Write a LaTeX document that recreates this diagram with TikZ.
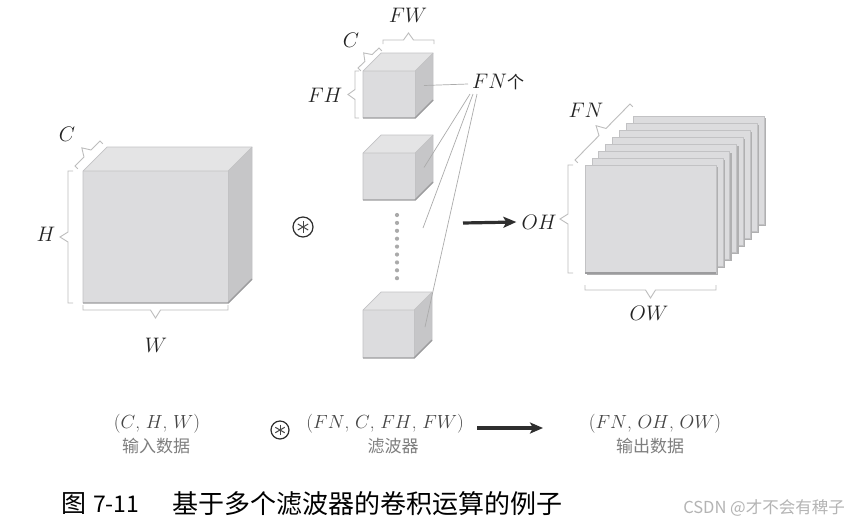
\RequirePackage{fix-cm}
\documentclass[tikz,border=0pt]{standalone}
\usepackage{fontspec}
\newfontfamily\cjk{Noto Sans CJK SC}
\usetikzlibrary{calc,arrows.meta}
\definecolor{lbl}{HTML}{222222}
\definecolor{bracecol}{HTML}{BDBDBD}
\definecolor{cfront}{HTML}{DCDCDE}
\definecolor{ctop}{HTML}{E4E4E5}
\definecolor{cside}{HTML}{C6C6C8}
\definecolor{cedge}{HTML}{C2C2C4}
\definecolor{cbot}{HTML}{9C9C9E}
\definecolor{fnline}{HTML}{ABABAB}
\definecolor{arrcol}{HTML}{2E2E2E}
\definecolor{botlbl}{HTML}{454545}
\definecolor{botcjk}{HTML}{7E7E7E}
\definecolor{wm}{HTML}{B4B4B4}
\newcommand\abrace[4]{%
  \coordinate (bA) at (#1); \coordinate (bB) at (#2);
  \coordinate (bM) at ($(bA)!0.5!(bB)$);
  \draw[brc] ($(bA)!#4!90:(bB)$) -- (bA) -- ($(bM)!5pt!(bA)$) -- ($(bM)!#3!-90:(bB)$) -- ($(bM)!5pt!(bB)$) -- (bB) -- ($(bB)!#4!-90:(bA)$);
}
\newcommand\cubeshape[6]{% name x y w h d
  \fill[cubefront] (#2,#3) rectangle ++(#4,#5);
  \fill[cubetop] (#2,#3) -- ++(#6,-#6) -- ++(#4,0) -- ++(-#6,#6) -- cycle;
  \fill[cubeside] ({#2+#4},#3) -- ++(#6,-#6) -- ++(0,#5) -- ++(-#6,#6) -- cycle;
  \draw[cubeedge] (#2,{#3+#5}) -- (#2,#3) -- ++(#6,-#6) -- ++(#4,0) -- ++(0,#5) -- ++(-#6,#6);
  \draw[cubeedge] (#2,#3) -- ++(#4,0) -- ++(#6,-#6);
  \draw[cubeedge] ({#2+#4},#3) -- ++(0,#5);
  \draw[cubebottom] (#2,{#3+#5}) -- ++(#4,0) -- ++(#6,-#6);
  \coordinate (#1) at ({#2+#4+#6/2},{#3+#5/2-#6/2});
}
\newcommand\convsym[3]{% name x y (diameter)
  \node[circle, draw=arrcol, line width=1.2pt, minimum size=#3, inner sep=0pt] (#1) at (#2) {};
  \foreach \a in {90,30,150} {\draw[line width=1pt, draw=botlbl] ($(#1.center)+(\a:0.3*#3)$) -- ($(#1.center)+(\a+180:0.3*#3)$);}
}
\begin{document}
\begin{tikzpicture}[x=1pt,y=-1pt,
  brc/.style={draw=bracecol, line width=0.9pt, line join=miter},
  cubefront/.style={fill=cfront},
  cubetop/.style={fill=ctop},
  cubeside/.style={fill=cside},
  cubeedge/.style={draw=cedge, line width=0.7pt},
  cubebottom/.style={draw=cbot, line width=1.4pt},
  lab/.style={text=lbl, font=\fontsize{21}{24}\selectfont, inner sep=0pt},
  blab/.style={text=botlbl, font=\fontsize{19}{22}\selectfont, inner sep=0pt},
  bcjk/.style={text=botcjk, font=\cjk\fontsize{17}{20}\selectfont, inner sep=0pt},
  fnl/.style={draw=fnline, line width=0.7pt},
  arr/.style={draw=arrcol, line width=3.2pt, -{Stealth[length=13pt,width=11pt,inset=3pt]}},
  sheet/.style={fill=cfront, draw=cedge, line width=0.7pt},
  sheetedge/.style={fill=cbot!80!white},
  dot/.style={fill=bracecol!90!black, circle, inner sep=0pt, minimum size=4.2pt},
  capt/.style={anchor=west, inner sep=0pt, text=black}
]
\useasboundingbox (0,0) rectangle (851,523);
\fill[white] (0,0) rectangle (851,523);

% ---------- input cube ----------
\cubeshape{bigside}{83}{171}{145}{132}{24}
\abrace{100,141}{75,166}{8pt}{4pt}
\abrace{68,171}{68,303}{8pt}{5pt}
\abrace{83,310}{228,310}{8pt}{5pt}
\node[lab] (lC) at (67,134) {$C$};
\node[lab] (lH) at (46,234) {$H$};
\node[lab] (lW) at (156,345) {$W$};

% convolution symbol
\convsym{conv1}{303,227}{20pt}

% ---------- filters ----------
\cubeshape{f1side}{363}{71}{52}{47}{18}
\cubeshape{f2side}{363}{153}{52}{47}{18}
\cubeshape{f3side}{363}{310}{51}{48}{18}
\abrace{434,40}{383,40}{7pt}{4pt}
\abrace{379,48}{358,68}{7pt}{4pt}
\abrace{355,71}{355,118}{7pt}{4pt}
\node[lab] (fFW) at (408,15) {$FW$};
\node[lab] (fC) at (351,40) {$C$};
\node[lab] (fFH) at (325,95) {$FH$};
\node[lab, anchor=west] (fn) at (472,82) {$FN$\cjk\fontsize{17}{20}\selectfont 个};
\foreach \i in {0,...,8} {\node[dot] (d\i) at (397,{215+\i*7.9}) {};}
\coordinate (fs1) at (468,84);
\coordinate (fs2) at (470,94);
\coordinate (fs3) at (473,94);
\coordinate (fs4) at (477,94);
\coordinate (fe3) at (423,228);
\draw[fnl] (fs1) -- (f1side);
\draw[fnl] (fs2) -- (f2side);
\draw[fnl] (fs3) -- (fe3);
\draw[fnl] (fs4) -- ($(f3side)+(2,2)$);

% ---------- arrow ----------
\coordinate (arrS) at (463,223);
\node[lab] (oOH) at (539,222) {$OH$};
\draw[arr] (arrS) -- ($(oOH.west)+(-5,0)$);

% ---------- output stack ----------
\foreach \i in {7,6,...,0} {
  \pgfmathsetmacro\sx{585+\i*6.86}
  \pgfmathsetmacro\sy{165-\i*7}
  \fill[sheetedge] ({\sx+2},{\sy+2}) rectangle ++(131,108);
  \draw[sheet] (\sx,\sy) rectangle ++(131,108);
}
\draw[cubebottom] (585,273) -- (716,273);
\abrace{630,104}{575,160}{9pt}{4pt}
\abrace{568,165}{568,273}{8pt}{5pt}
\abrace{585,290}{716,290}{8pt}{5pt}
\node[lab] (oFN) at (586,110) {$FN$};
\node[lab] (oOW) at (649,313) {$OW$};

% ---------- bottom formula ----------
\node[blab] (b1) at (157,424) {$(C$, $H$, $W)$};
\node[bcjk] (b1c) at (156,446) {输入数据};
\convsym{conv2}{280,430}{18pt}
\node[blab, anchor=east] (b2) at (464,424) {$(FN$, $C$, $FH$, $FW)$};
\node[bcjk] (b2c) at (393,446) {滤波器};
\node[blab] (b3) at (655,424) {$(FN$, $OH$, $OW)$};
\node[bcjk] (b3c) at (650,446) {输出数据};
\coordinate (ba1) at (477,428);
\coordinate (ba2) at (543,428);
\draw[arr] (ba1) -- (ba2);

% ---------- caption ----------
\node[capt, font=\cjk\fontsize{25}{27}\selectfont] (cap1) at (61,504) {图};
\node[capt, font=\cjk\fontsize{23}{26}\selectfont] (cap2) at (93,504) {7-11};
\node[capt, font=\cjk\fontsize{26}{28}\selectfont] (cap3) at (172,504) {基于多个滤波器的卷积运算的例子};
\node[anchor=east, inner sep=0pt, text=wm, font=\cjk\fontsize{16.5}{19}\selectfont] (wmk) at (845,508) {CSDN @才不会有稗子};
\end{tikzpicture}
\end{document}
